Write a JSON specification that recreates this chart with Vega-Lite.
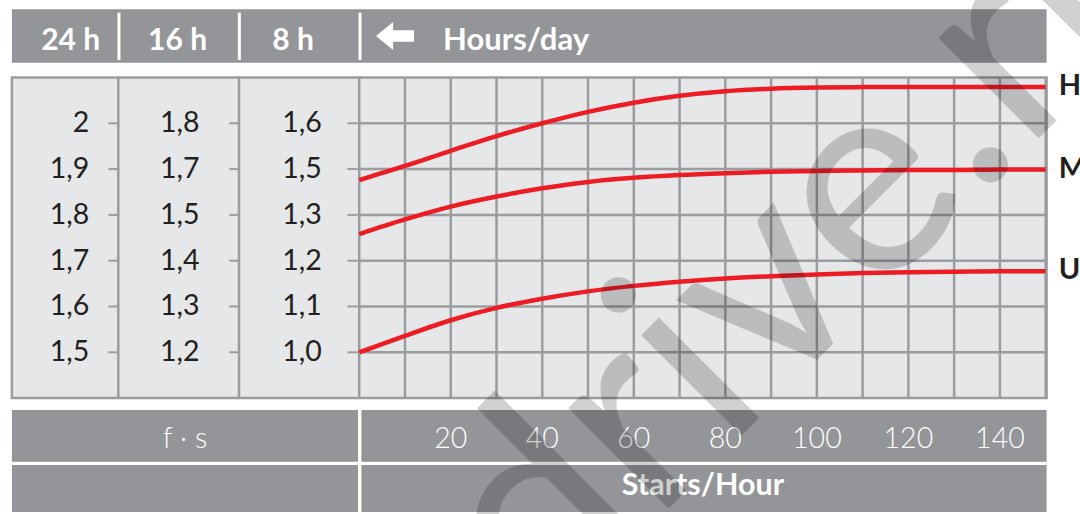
{
  "$schema": "https://vega.github.io/schema/vega-lite/v6.json",
  "width": 1080,
  "height": 514,
  "padding": 0,
  "autosize": {"type": "none"},
  "background": "white",
  "config": {"view": {"stroke": null}, "axis": {"disable": true}, "text": {"font": "Lato"}},
  "datasets": {
    "curves": [
      {"series": "H", "starts": 0, "fs": 1.876}, {"series": "H", "starts": 10, "fs": 1.907}, {"series": "H", "starts": 20, "fs": 1.940}, {"series": "H", "starts": 30, "fs": 1.972}, {"series": "H", "starts": 40, "fs": 2.000}, {"series": "H", "starts": 50, "fs": 2.025}, {"series": "H", "starts": 60, "fs": 2.045}, {"series": "H", "starts": 70, "fs": 2.060}, {"series": "H", "starts": 80, "fs": 2.070}, {"series": "H", "starts": 90, "fs": 2.0755}, {"series": "H", "starts": 100, "fs": 2.078}, {"series": "H", "starts": 110, "fs": 2.079}, {"series": "H", "starts": 120, "fs": 2.0795}, {"series": "H", "starts": 130, "fs": 2.0795}, {"series": "H", "starts": 140, "fs": 2.0795}, {"series": "H", "starts": 150, "fs": 2.0795},
      {"series": "M", "starts": 0, "fs": 1.758}, {"series": "M", "starts": 10, "fs": 1.790}, {"series": "M", "starts": 20, "fs": 1.818}, {"series": "M", "starts": 30, "fs": 1.840}, {"series": "M", "starts": 40, "fs": 1.858}, {"series": "M", "starts": 50, "fs": 1.872}, {"series": "M", "starts": 60, "fs": 1.881}, {"series": "M", "starts": 70, "fs": 1.887}, {"series": "M", "starts": 80, "fs": 1.891}, {"series": "M", "starts": 90, "fs": 1.894}, {"series": "M", "starts": 100, "fs": 1.896}, {"series": "M", "starts": 110, "fs": 1.897}, {"series": "M", "starts": 120, "fs": 1.898}, {"series": "M", "starts": 130, "fs": 1.898}, {"series": "M", "starts": 140, "fs": 1.899}, {"series": "M", "starts": 150, "fs": 1.899},
      {"series": "U", "starts": 0, "fs": 1.500}, {"series": "U", "starts": 10, "fs": 1.536}, {"series": "U", "starts": 20, "fs": 1.570}, {"series": "U", "starts": 30, "fs": 1.597}, {"series": "U", "starts": 40, "fs": 1.617}, {"series": "U", "starts": 50, "fs": 1.633}, {"series": "U", "starts": 60, "fs": 1.645}, {"series": "U", "starts": 70, "fs": 1.654}, {"series": "U", "starts": 80, "fs": 1.661}, {"series": "U", "starts": 90, "fs": 1.666}, {"series": "U", "starts": 100, "fs": 1.670}, {"series": "U", "starts": 110, "fs": 1.673}, {"series": "U", "starts": 120, "fs": 1.675}, {"series": "U", "starts": 130, "fs": 1.676}, {"series": "U", "starts": 140, "fs": 1.677}, {"series": "U", "starts": 150, "fs": 1.677}
    ],
    "scaleRows": [
      {"v": 2.0, "h24": "2", "h16": "1,8", "h8": "1,6"},
      {"v": 1.9, "h24": "1,9", "h16": "1,7", "h8": "1,5"},
      {"v": 1.8, "h24": "1,8", "h16": "1,5", "h8": "1,3"},
      {"v": 1.7, "h24": "1,7", "h16": "1,4", "h8": "1,2"},
      {"v": 1.6, "h24": "1,6", "h16": "1,3", "h8": "1,1"},
      {"v": 1.5, "h24": "1,5", "h16": "1,2", "h8": "1,0"}
    ],
    "startsGrid": [
      {"s": 0}, {"s": 10}, {"s": 20}, {"s": 30}, {"s": 40}, {"s": 50}, {"s": 60}, {"s": 70}, {"s": 80}, {"s": 90}, {"s": 100}, {"s": 110}, {"s": 120}, {"s": 130}, {"s": 140}, {"s": 150}
    ],
    "startsTicks": [
      {"s": 20}, {"s": 40}, {"s": 60}, {"s": 80}, {"s": 100}, {"s": 120}, {"s": 140}
    ],
    "one": [{}]
  },
  "layer": [
    {
      "data": {"name": "one"},
      "mark": {"type": "rect", "color": "#939598"},
      "encoding": {
        "x": {"datum": -75.9, "type": "quantitative", "scale": {"domain": [-78.5, 157.5], "nice": false, "zero": false}},
        "x2": {"datum": 150.2},
        "y": {"datum": 2.2489, "type": "quantitative", "scale": {"domain": [1.1469, 2.2692], "nice": false, "zero": false}},
        "y2": {"datum": 2.1323}
      }
    },
    {
      "data": {"name": "one"},
      "mark": {"type": "rect", "fill": "#e6e7e8", "stroke": "#9a9c9f", "strokeWidth": 2.5},
      "encoding": {
        "x": {"datum": -75.9, "type": "quantitative", "scale": {"domain": [-78.5, 157.5], "nice": false, "zero": false}},
        "x2": {"datum": 150.2},
        "y": {"datum": 2.1, "type": "quantitative", "scale": {"domain": [1.1469, 2.2692], "nice": false, "zero": false}},
        "y2": {"datum": 1.4}
      }
    },
    {
      "data": {"name": "one"},
      "mark": {"type": "rect", "color": "#939598"},
      "encoding": {
        "x": {"datum": -75.9, "type": "quantitative", "scale": {"domain": [-78.5, 157.5], "nice": false, "zero": false}},
        "x2": {"datum": 150.2},
        "y": {"datum": 1.374, "type": "quantitative", "scale": {"domain": [1.1469, 2.2692], "nice": false, "zero": false}},
        "y2": {"datum": 1.1513}
      }
    },
    {
      "data": {"name": "one"},
      "mark": {"type": "rule", "color": "white", "strokeWidth": 3.4},
      "encoding": {
        "x": {"datum": 0.1, "type": "quantitative", "scale": {"domain": [-78.5, 157.5], "nice": false, "zero": false}},
        "y": {"datum": 1.376, "type": "quantitative", "scale": {"domain": [1.1469, 2.2692], "nice": false, "zero": false}},
        "y2": {"datum": 1.1513}
      }
    },
    {
      "data": {"name": "one"},
      "mark": {"type": "rule", "color": "white", "strokeWidth": 3.3},
      "encoding": {
        "x": {"datum": -75.9, "type": "quantitative", "scale": {"domain": [-78.5, 157.5], "nice": false, "zero": false}},
        "x2": {"datum": 150.2},
        "y": {"datum": 1.2576, "type": "quantitative", "scale": {"domain": [1.1469, 2.2692], "nice": false, "zero": false}}
      }
    },
    {
      "data": {"name": "startsGrid"},
      "mark": {"type": "rule", "color": "#9a9c9f", "strokeWidth": 2.5},
      "encoding": {
        "x": {"field": "s", "type": "quantitative", "scale": {"domain": [-78.5, 157.5], "nice": false, "zero": false}},
        "y": {"datum": 2.1, "type": "quantitative", "scale": {"domain": [1.1469, 2.2692], "nice": false, "zero": false}},
        "y2": {"datum": 1.4}
      }
    },
    {
      "data": {"name": "scaleRows"},
      "mark": {"type": "rule", "color": "#9a9c9f", "strokeWidth": 2.5},
      "encoding": {
        "x": {"datum": 0, "type": "quantitative", "scale": {"domain": [-78.5, 157.5], "nice": false, "zero": false}},
        "x2": {"datum": 150.2},
        "y": {"field": "v", "type": "quantitative", "scale": {"domain": [1.1469, 2.2692], "nice": false, "zero": false}}
      }
    },
    {
      "data": {"name": "scaleRows"},
      "mark": {"type": "rule", "color": "#9a9c9f", "strokeWidth": 2},
      "encoding": {
        "x": {"datum": -54.8, "type": "quantitative", "scale": {"domain": [-78.5, 157.5], "nice": false, "zero": false}},
        "x2": {"datum": -52.65},
        "y": {"field": "v", "type": "quantitative", "scale": {"domain": [1.1469, 2.2692], "nice": false, "zero": false}}
      }
    },
    {
      "data": {"name": "scaleRows"},
      "mark": {"type": "rule", "color": "#9a9c9f", "strokeWidth": 2},
      "encoding": {
        "x": {"datum": -28.4, "type": "quantitative", "scale": {"domain": [-78.5, 157.5], "nice": false, "zero": false}},
        "x2": {"datum": -26.27},
        "y": {"field": "v", "type": "quantitative", "scale": {"domain": [1.1469, 2.2692], "nice": false, "zero": false}}
      }
    },
    {
      "data": {"name": "scaleRows"},
      "mark": {"type": "rule", "color": "#9a9c9f", "strokeWidth": 2},
      "encoding": {
        "x": {"datum": -2.6, "type": "quantitative", "scale": {"domain": [-78.5, 157.5], "nice": false, "zero": false}},
        "x2": {"datum": 0},
        "y": {"field": "v", "type": "quantitative", "scale": {"domain": [1.1469, 2.2692], "nice": false, "zero": false}}
      }
    },
    {
      "data": {"name": "one"},
      "mark": {"type": "rule", "color": "#9a9c9f", "strokeWidth": 2.5},
      "encoding": {
        "x": {"datum": -52.65, "type": "quantitative", "scale": {"domain": [-78.5, 157.5], "nice": false, "zero": false}},
        "y": {"datum": 2.1, "type": "quantitative", "scale": {"domain": [1.1469, 2.2692], "nice": false, "zero": false}},
        "y2": {"datum": 1.4}
      }
    },
    {
      "data": {"name": "one"},
      "mark": {"type": "rule", "color": "#9a9c9f", "strokeWidth": 2.5},
      "encoding": {
        "x": {"datum": -26.27, "type": "quantitative", "scale": {"domain": [-78.5, 157.5], "nice": false, "zero": false}},
        "y": {"datum": 2.1, "type": "quantitative", "scale": {"domain": [1.1469, 2.2692], "nice": false, "zero": false}},
        "y2": {"datum": 1.4}
      }
    },
    {
      "data": {"name": "scaleRows"},
      "mark": {"type": "text", "align": "right", "baseline": "middle", "fontSize": 28.5, "fontWeight": 400, "color": "#231f20"},
      "encoding": {
        "x": {"datum": -59.0, "type": "quantitative", "scale": {"domain": [-78.5, 157.5], "nice": false, "zero": false}},
        "y": {"field": "v", "type": "quantitative", "scale": {"domain": [1.1469, 2.2692], "nice": false, "zero": false}},
        "text": {"field": "h24"}
      }
    },
    {
      "data": {"name": "scaleRows"},
      "mark": {"type": "text", "align": "right", "baseline": "middle", "fontSize": 28.5, "fontWeight": 400, "color": "#231f20"},
      "encoding": {
        "x": {"datum": -34.9, "type": "quantitative", "scale": {"domain": [-78.5, 157.5], "nice": false, "zero": false}},
        "y": {"field": "v", "type": "quantitative", "scale": {"domain": [1.1469, 2.2692], "nice": false, "zero": false}},
        "text": {"field": "h16"}
      }
    },
    {
      "data": {"name": "scaleRows"},
      "mark": {"type": "text", "align": "right", "baseline": "middle", "fontSize": 28.5, "fontWeight": 400, "color": "#231f20"},
      "encoding": {
        "x": {"datum": -8.2, "type": "quantitative", "scale": {"domain": [-78.5, 157.5], "nice": false, "zero": false}},
        "y": {"field": "v", "type": "quantitative", "scale": {"domain": [1.1469, 2.2692], "nice": false, "zero": false}},
        "text": {"field": "h8"}
      }
    },
    {
      "data": {"name": "curves"},
      "mark": {"type": "line", "color": "#ed1c24", "strokeWidth": 4.5, "interpolate": "monotone"},
      "encoding": {
        "x": {"field": "starts", "type": "quantitative", "scale": {"domain": [-78.5, 157.5], "nice": false, "zero": false}},
        "y": {"field": "fs", "type": "quantitative", "scale": {"domain": [1.1469, 2.2692], "nice": false, "zero": false}},
        "detail": {"field": "series"}
      }
    },
    {
      "data": {"name": "curves"},
      "transform": [{"filter": "datum.starts == 150"}],
      "mark": {"type": "text", "align": "left", "baseline": "middle", "dx": 13, "dy": -1, "fontSize": 29, "fontWeight": "bold", "color": "#231f20"},
      "encoding": {
        "x": {"field": "starts", "type": "quantitative", "scale": {"domain": [-78.5, 157.5], "nice": false, "zero": false}},
        "y": {"field": "fs", "type": "quantitative", "scale": {"domain": [1.1469, 2.2692], "nice": false, "zero": false}},
        "text": {"field": "series"}
      }
    },
    {
      "data": {"name": "one"},
      "mark": {"type": "rule", "color": "white", "strokeWidth": 3},
      "encoding": {
        "x": {"datum": -52.5, "type": "quantitative", "scale": {"domain": [-78.5, 157.5], "nice": false, "zero": false}},
        "y": {"datum": 2.2415, "type": "quantitative", "scale": {"domain": [1.1469, 2.2692], "nice": false, "zero": false}},
        "y2": {"datum": 2.1382}
      }
    },
    {
      "data": {"name": "one"},
      "mark": {"type": "rule", "color": "white", "strokeWidth": 3},
      "encoding": {
        "x": {"datum": -26.2, "type": "quantitative", "scale": {"domain": [-78.5, 157.5], "nice": false, "zero": false}},
        "y": {"datum": 2.2415, "type": "quantitative", "scale": {"domain": [1.1469, 2.2692], "nice": false, "zero": false}},
        "y2": {"datum": 2.1382}
      }
    },
    {
      "data": {"name": "one"},
      "mark": {"type": "rule", "color": "white", "strokeWidth": 3},
      "encoding": {
        "x": {"datum": 0.17, "type": "quantitative", "scale": {"domain": [-78.5, 157.5], "nice": false, "zero": false}},
        "y": {"datum": 2.2415, "type": "quantitative", "scale": {"domain": [1.1469, 2.2692], "nice": false, "zero": false}},
        "y2": {"datum": 2.1382}
      }
    },
    {
      "data": {"name": "one"},
      "mark": {"type": "text", "text": "24 h", "align": "center", "baseline": "alphabetic", "fontSize": 30, "fontWeight": "bold", "color": "white"},
      "encoding": {
        "x": {"datum": -63.05, "type": "quantitative", "scale": {"domain": [-78.5, 157.5], "nice": false, "zero": false}},
        "y": {"datum": 2.1611, "type": "quantitative", "scale": {"domain": [1.1469, 2.2692], "nice": false, "zero": false}}
      }
    },
    {
      "data": {"name": "one"},
      "mark": {"type": "text", "text": "16 h", "align": "center", "baseline": "alphabetic", "fontSize": 30, "fontWeight": "bold", "color": "white"},
      "encoding": {
        "x": {"datum": -39.69, "type": "quantitative", "scale": {"domain": [-78.5, 157.5], "nice": false, "zero": false}},
        "y": {"datum": 2.1611, "type": "quantitative", "scale": {"domain": [1.1469, 2.2692], "nice": false, "zero": false}}
      }
    },
    {
      "data": {"name": "one"},
      "mark": {"type": "text", "text": "8 h", "align": "center", "baseline": "alphabetic", "fontSize": 30, "fontWeight": "bold", "color": "white"},
      "encoding": {
        "x": {"datum": -14.47, "type": "quantitative", "scale": {"domain": [-78.5, 157.5], "nice": false, "zero": false}},
        "y": {"datum": 2.1611, "type": "quantitative", "scale": {"domain": [1.1469, 2.2692], "nice": false, "zero": false}}
      }
    },
    {
      "data": {"name": "one"},
      "mark": {"type": "point", "shape": "M-1,0L-0.1,-0.74L-0.1,-0.3L1,-0.3L1,0.3L-0.1,0.3L-0.1,0.74Z", "size": 1444, "filled": true, "color": "white", "opacity": 1, "strokeWidth": 0},
      "encoding": {
        "x": {"datum": 7.82, "type": "quantitative", "scale": {"domain": [-78.5, 157.5], "nice": false, "zero": false}},
        "y": {"datum": 2.1906, "type": "quantitative", "scale": {"domain": [1.1469, 2.2692], "nice": false, "zero": false}}
      }
    },
    {
      "data": {"name": "one"},
      "mark": {"type": "text", "text": "Hours/day", "align": "left", "baseline": "alphabetic", "fontSize": 31, "fontWeight": "bold", "color": "white"},
      "encoding": {
        "x": {"datum": 18.31, "type": "quantitative", "scale": {"domain": [-78.5, 157.5], "nice": false, "zero": false}},
        "y": {"datum": 2.1611, "type": "quantitative", "scale": {"domain": [1.1469, 2.2692], "nice": false, "zero": false}}
      }
    },
    {
      "data": {"name": "one"},
      "mark": {"type": "text", "text": "f · s", "align": "center", "baseline": "middle", "fontSize": 29, "fontWeight": 300, "color": "white"},
      "encoding": {
        "x": {"datum": -38.07, "type": "quantitative", "scale": {"domain": [-78.5, 157.5], "nice": false, "zero": false}},
        "y": {"datum": 1.3111, "type": "quantitative", "scale": {"domain": [1.1469, 2.2692], "nice": false, "zero": false}}
      }
    },
    {
      "data": {"name": "startsTicks"},
      "mark": {"type": "text", "align": "center", "baseline": "middle", "fontSize": 28.5, "fontWeight": 300, "color": "white"},
      "encoding": {
        "x": {"field": "s", "type": "quantitative", "scale": {"domain": [-78.5, 157.5], "nice": false, "zero": false}},
        "y": {"datum": 1.3111, "type": "quantitative", "scale": {"domain": [1.1469, 2.2692], "nice": false, "zero": false}},
        "text": {"field": "s"}
      }
    },
    {
      "data": {"name": "one"},
      "mark": {"type": "text", "text": "Starts/Hour", "align": "center", "baseline": "middle", "fontSize": 30.5, "fontWeight": "bold", "color": "white"},
      "encoding": {
        "x": {"datum": 75.1, "type": "quantitative", "scale": {"domain": [-78.5, 157.5], "nice": false, "zero": false}},
        "y": {"datum": 1.2085, "type": "quantitative", "scale": {"domain": [1.1469, 2.2692], "nice": false, "zero": false}}
      }
    },
    {
      "data": {"name": "one"},
      "mark": {"type": "text", "text": "drive.ru", "align": "left", "baseline": "alphabetic", "angle": -45, "fontSize": 280, "font": "Lato", "color": "black", "opacity": 0.18, "clip": true},
      "encoding": {
        "x": {"datum": 40.3, "type": "quantitative", "scale": {"domain": [-78.5, 157.5], "nice": false, "zero": false}},
        "y": {"datum": 0.8863, "type": "quantitative", "scale": {"domain": [1.1469, 2.2692], "nice": false, "zero": false}}
      }
    }
  ]
}
